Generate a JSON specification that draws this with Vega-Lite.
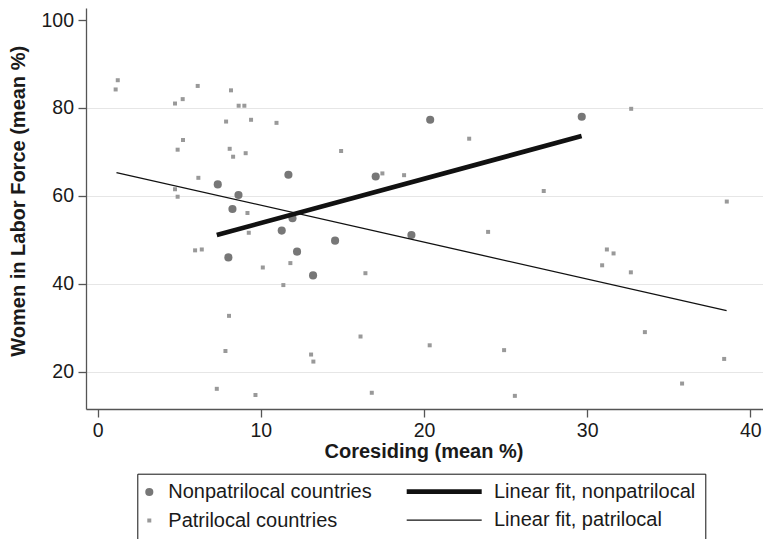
{
  "$schema": "https://vega.github.io/schema/vega-lite/v6.json",
  "width": 677,
  "height": 401,
  "autosize": {"type": "none"},
  "padding": {"left": 86, "top": 8, "right": 0, "bottom": 130},
  "background": "white",
  "config": {"view": {"stroke": null}, "font": "Liberation Sans"},
  "encoding": {
    "x": {
      "field": "x", "type": "quantitative",
      "scale": {"domain": [-0.717, 40.78], "nice": false, "zero": false},
      "axis": {
        "title": "Coresiding (mean %)",
        "values": [0, 10, 20, 30, 40],
        "grid": false,
        "domainColor": "#555555", "domainWidth": 1.3,
        "tickColor": "#555555", "tickWidth": 1.3, "tickSize": 8,
        "labelFont": "Liberation Sans", "labelFontSize": 19.5, "labelColor": "#1a1a1a", "labelPadding": 4,
        "labelFlush": false, "labelOverlap": false,
        "titleFont": "Liberation Sans", "titleFontSize": 20, "titleFontWeight": "bold", "titleColor": "#1a1a1a",
        "titleBaseline": "alphabetic", "titleAlign": "center", "titleX": 337.5, "titleY": 48.3
      }
    },
    "y": {
      "field": "y", "type": "quantitative",
      "scale": {"domain": [11.51, 102.73], "nice": false, "zero": false},
      "axis": {
        "title": "Women in Labor Force (mean %)",
        "values": [20, 40, 60, 80, 100],
        "grid": true,
        "gridColor": {"condition": {"test": "datum.value == 100", "value": "transparent"}, "value": "#e6e6e6"},
        "gridWidth": 1.2,
        "domainColor": "#555555", "domainWidth": 1.3,
        "tickColor": "#555555", "tickWidth": 1.3, "tickSize": 8,
        "labelFont": "Liberation Sans", "labelFontSize": 19.5, "labelColor": "#1a1a1a", "labelPadding": 4.5,
        "labelFlush": false, "labelOverlap": false,
        "titleFont": "Liberation Sans", "titleFontSize": 20, "titleFontWeight": "bold", "titleColor": "#1a1a1a",
        "titleAngle": 270, "titleBaseline": "alphabetic", "titleAlign": "center", "titleX": -62, "titleY": 192.8
      }
    }
  },
  "layer": [
    {
      "data": {"values": [
        {"group": "Nonpatrilocal countries", "x": 7.36, "y": 62.6},
        {"group": "Nonpatrilocal countries", "x": 8.63, "y": 60.2},
        {"group": "Nonpatrilocal countries", "x": 8.26, "y": 57.0},
        {"group": "Nonpatrilocal countries", "x": 11.69, "y": 64.8},
        {"group": "Nonpatrilocal countries", "x": 11.94, "y": 54.9},
        {"group": "Nonpatrilocal countries", "x": 11.28, "y": 52.1},
        {"group": "Nonpatrilocal countries", "x": 17.04, "y": 64.4},
        {"group": "Nonpatrilocal countries", "x": 8.01, "y": 46.0},
        {"group": "Nonpatrilocal countries", "x": 12.22, "y": 47.3},
        {"group": "Nonpatrilocal countries", "x": 13.2, "y": 41.9},
        {"group": "Nonpatrilocal countries", "x": 14.55, "y": 49.8},
        {"group": "Nonpatrilocal countries", "x": 20.38, "y": 77.3},
        {"group": "Nonpatrilocal countries", "x": 29.67, "y": 78.0},
        {"group": "Nonpatrilocal countries", "x": 19.23, "y": 51.1}
      ]},
      "mark": {"type": "point", "filled": true, "opacity": 1, "strokeWidth": 0},
      "encoding": {
        "color": {
          "field": "group", "type": "ordinal",
          "scale": {"type": "ordinal", "domain": ["Nonpatrilocal countries", "Patrilocal countries"], "range": ["#777777", "#999999"]},
          "legend": {
            "title": null,
            "orient": "none",
            "legendX": 53.3,
            "legendY": 476,
            "direction": "vertical",
            "padding": 0,
            "rowPadding": 8.5,
            "clipHeight": 16,
            "labelOffset": 9,
            "labelFont": "Liberation Sans",
            "labelFontSize": 20,
            "labelColor": "#1a1a1a",
            "labelLimit": 400
          }
        },
        "shape": {
          "field": "group", "type": "ordinal",
          "scale": {"type": "ordinal", "domain": ["Nonpatrilocal countries", "Patrilocal countries"], "range": ["circle", "square"]}
        },
        "size": {
          "field": "group", "type": "ordinal",
          "scale": {"type": "ordinal", "domain": ["Nonpatrilocal countries", "Patrilocal countries"], "range": [66, 16]}
        }
      }
    },
    {
      "data": {"values": [
        {"fit": "Linear fit, nonpatrilocal", "x": 7.3, "y": 51.1},
        {"fit": "Linear fit, nonpatrilocal", "x": 29.66, "y": 73.6}
      ]},
      "mark": {"type": "line", "color": "#111111", "strokeCap": "butt"},
      "encoding": {
        "strokeWidth": {
          "field": "fit", "type": "ordinal",
          "scale": {"type": "ordinal", "domain": ["Linear fit, nonpatrilocal", "Linear fit, patrilocal"], "range": [4.7, 1.3]},
          "legend": {
            "title": null,
            "orient": "none",
            "legendX": 51.3,
            "legendY": 465.7,
            "direction": "vertical",
            "padding": 10,
            "strokeColor": "#111111",
            "rowPadding": 8.5,
            "clipHeight": 16,
            "symbolType": "stroke",
            "symbolSize": 5625,
            "symbolStrokeColor": "#111111",
            "symbolOffset": 256.9,
            "labelOffset": 9.8,
            "labelFont": "Liberation Sans",
            "labelFontSize": 20,
            "labelColor": "#1a1a1a",
            "labelLimit": 400
          }
        }
      }
    },
    {
      "data": {"values": [
        {"group": "Patrilocal countries", "x": 1.1, "y": 84.2},
        {"group": "Patrilocal countries", "x": 1.23, "y": 86.3},
        {"group": "Patrilocal countries", "x": 4.74, "y": 81.0},
        {"group": "Patrilocal countries", "x": 5.21, "y": 82.0},
        {"group": "Patrilocal countries", "x": 6.13, "y": 85.0},
        {"group": "Patrilocal countries", "x": 8.17, "y": 84.0},
        {"group": "Patrilocal countries", "x": 8.64, "y": 80.5},
        {"group": "Patrilocal countries", "x": 8.99, "y": 80.5},
        {"group": "Patrilocal countries", "x": 7.87, "y": 76.9},
        {"group": "Patrilocal countries", "x": 9.4, "y": 77.3},
        {"group": "Patrilocal countries", "x": 10.96, "y": 76.6},
        {"group": "Patrilocal countries", "x": 5.23, "y": 72.7},
        {"group": "Patrilocal countries", "x": 4.9, "y": 70.5},
        {"group": "Patrilocal countries", "x": 8.09, "y": 70.7},
        {"group": "Patrilocal countries", "x": 8.3, "y": 68.9},
        {"group": "Patrilocal countries", "x": 9.07, "y": 69.7},
        {"group": "Patrilocal countries", "x": 14.92, "y": 70.2},
        {"group": "Patrilocal countries", "x": 6.17, "y": 64.1},
        {"group": "Patrilocal countries", "x": 4.74, "y": 61.5},
        {"group": "Patrilocal countries", "x": 4.9, "y": 59.8},
        {"group": "Patrilocal countries", "x": 9.18, "y": 56.1},
        {"group": "Patrilocal countries", "x": 17.45, "y": 65.1},
        {"group": "Patrilocal countries", "x": 9.26, "y": 51.6},
        {"group": "Patrilocal countries", "x": 5.97, "y": 47.6},
        {"group": "Patrilocal countries", "x": 6.38, "y": 47.8},
        {"group": "Patrilocal countries", "x": 10.12, "y": 43.7},
        {"group": "Patrilocal countries", "x": 11.81, "y": 44.7},
        {"group": "Patrilocal countries", "x": 11.38, "y": 39.7},
        {"group": "Patrilocal countries", "x": 16.41, "y": 42.4},
        {"group": "Patrilocal countries", "x": 8.05, "y": 32.7},
        {"group": "Patrilocal countries", "x": 7.83, "y": 24.7},
        {"group": "Patrilocal countries", "x": 16.11, "y": 28.0},
        {"group": "Patrilocal countries", "x": 13.08, "y": 23.9},
        {"group": "Patrilocal countries", "x": 13.22, "y": 22.3},
        {"group": "Patrilocal countries", "x": 7.3, "y": 16.1},
        {"group": "Patrilocal countries", "x": 9.67, "y": 14.7},
        {"group": "Patrilocal countries", "x": 16.8, "y": 15.2},
        {"group": "Patrilocal countries", "x": 32.7, "y": 79.8},
        {"group": "Patrilocal countries", "x": 18.78, "y": 64.7},
        {"group": "Patrilocal countries", "x": 22.77, "y": 73.0},
        {"group": "Patrilocal countries", "x": 27.34, "y": 61.1},
        {"group": "Patrilocal countries", "x": 38.56, "y": 58.7},
        {"group": "Patrilocal countries", "x": 23.93, "y": 51.8},
        {"group": "Patrilocal countries", "x": 31.21, "y": 47.8},
        {"group": "Patrilocal countries", "x": 31.62, "y": 46.9},
        {"group": "Patrilocal countries", "x": 30.92, "y": 44.2},
        {"group": "Patrilocal countries", "x": 32.68, "y": 42.6},
        {"group": "Patrilocal countries", "x": 33.54, "y": 29.0},
        {"group": "Patrilocal countries", "x": 20.35, "y": 26.0},
        {"group": "Patrilocal countries", "x": 24.91, "y": 24.9},
        {"group": "Patrilocal countries", "x": 38.4, "y": 22.9},
        {"group": "Patrilocal countries", "x": 35.82, "y": 17.3},
        {"group": "Patrilocal countries", "x": 25.57, "y": 14.5}
      ]},
      "mark": {"type": "point", "filled": true, "opacity": 1, "strokeWidth": 0},
      "encoding": {
        "color": {
          "field": "group", "type": "ordinal",
          "scale": {"type": "ordinal", "domain": ["Nonpatrilocal countries", "Patrilocal countries"], "range": ["#777777", "#999999"]}
        },
        "shape": {
          "field": "group", "type": "ordinal",
          "scale": {"type": "ordinal", "domain": ["Nonpatrilocal countries", "Patrilocal countries"], "range": ["circle", "square"]}
        },
        "size": {
          "field": "group", "type": "ordinal",
          "scale": {"type": "ordinal", "domain": ["Nonpatrilocal countries", "Patrilocal countries"], "range": [66, 16]}
        }
      }
    },
    {
      "data": {"values": [
        {"fit": "Linear fit, patrilocal", "x": 1.15, "y": 65.3},
        {"fit": "Linear fit, patrilocal", "x": 38.55, "y": 33.9}
      ]},
      "mark": {"type": "line", "color": "#111111", "strokeCap": "butt"},
      "encoding": {
        "strokeWidth": {
          "field": "fit", "type": "ordinal",
          "scale": {"type": "ordinal", "domain": ["Linear fit, nonpatrilocal", "Linear fit, patrilocal"], "range": [4.7, 1.3]}
        }
      }
    }
  ]
}
